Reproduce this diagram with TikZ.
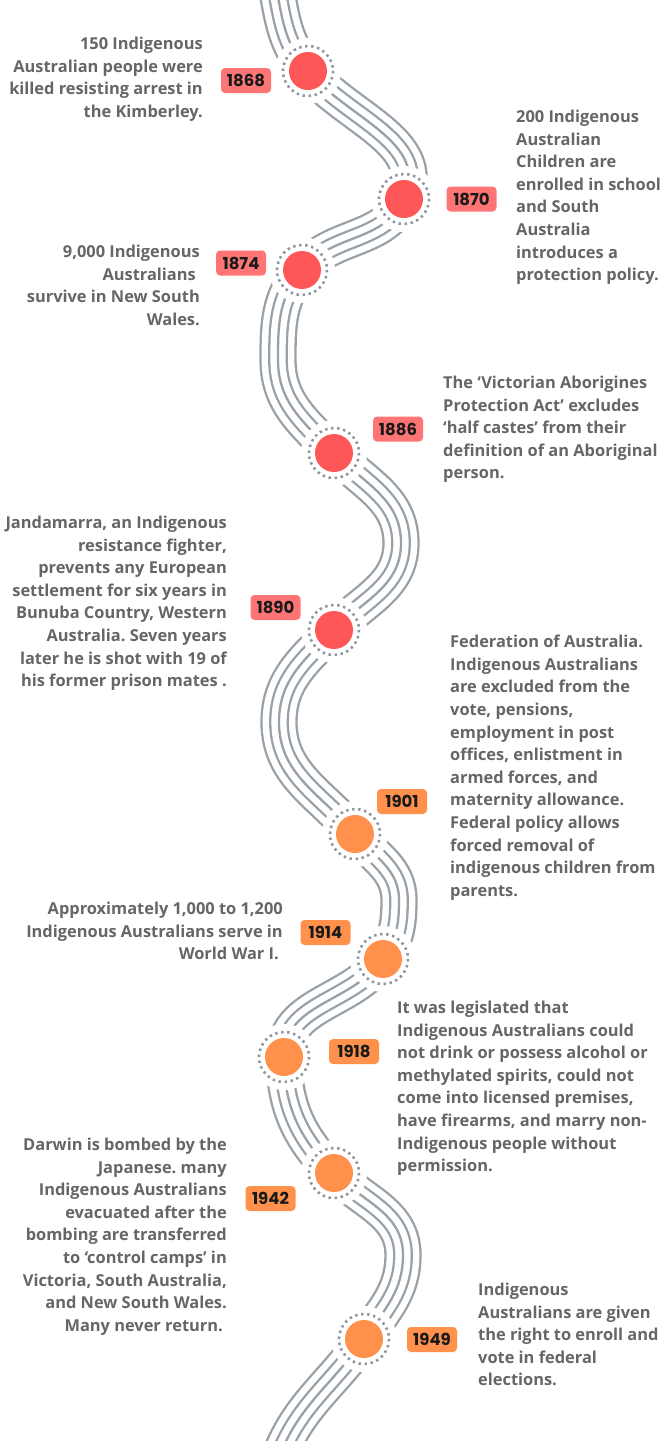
\documentclass[tikz,border=0pt]{standalone}
\usepackage{fontspec}
\setmainfont{Open Sans}
\newfontfamily\yearfont{Poppins}
\frenchspacing
\definecolor{txt}{HTML}{666666}
\definecolor{river}{HTML}{98A0A8}
\definecolor{ringc}{HTML}{8E979F}
\definecolor{redc}{HTML}{FF5757}
\definecolor{redl}{HTML}{FF7575}
\definecolor{orc}{HTML}{FF914D}
\definecolor{orl}{HTML}{FF914D}
\begin{document}
\begin{tikzpicture}[x=1pt,y=-1pt,
  desc/.style={inner sep=0pt, text=txt, font=\fontsize{16.4}{22.6}\selectfont\bfseries, execute at begin node=\strut},
  ldesc/.style={desc, anchor=north east, align=right},
  rdesc/.style={desc, anchor=north west, align=left},
  yearbox/.style={rounded corners=4pt, minimum width=50pt, minimum height=25pt, inner sep=0pt, text=black!90, font=\yearfont\bfseries\fontsize{16.5}{16.5}\selectfont},
  redyear/.style={yearbox, fill=redl},
  oryear/.style={yearbox, fill=orl},
  dot/.style={circle, minimum size=38pt, inner sep=0pt},
  ringdots/.style={draw=ringc, line width=2.6pt, dash pattern=on 2.4pt off 3.64pt},
]
\fill[white] (0,0) rectangle (666,1441);
\useasboundingbox (0,0) rectangle (666,1441);
\clip (0,0) rectangle (666,1441);
% path points
\coordinate (top) at (276,-15);
\coordinate (p1868) at (308,71);
\coordinate (p1870) at (404,199);
\coordinate (p1874) at (302,270);
\coordinate (m3) at (278,360);
\coordinate (p1886) at (334,453);
\coordinate (m4) at (401,543);
\coordinate (p1890) at (334,630);
\coordinate (m5) at (279,722);
\coordinate (p1901) at (355,834);
\coordinate (m6) at (399,900);
\coordinate (p1914) at (383,959);
\coordinate (p1918) at (284,1057);
\coordinate (p1942) at (334,1173);
\coordinate (m9) at (403,1255);
\coordinate (p1949) at (364,1339);
\coordinate (bot) at (278,1460);
\def\riverpath{(top) to[out=-80,in=130] (p1868)
 to[out=-50,in=65] (p1870)
 to[out=-115,in=50] (p1874)
 to[out=-130,in=90] (m3)
 to[out=-90,in=135] (p1886)
 to[out=-45,in=90] (m4)
 to[out=-90,in=45] (p1890)
 to[out=-135,in=90] (m5)
 to[out=-90,in=130] (p1901)
 to[out=-50,in=90] (m6)
 to[out=-90,in=55] (p1914)
 to[out=-125,in=90] (p1918)
 to[out=-90,in=135] (p1942)
 to[out=-45,in=90] (m9)
 to[out=-90,in=55] (p1949)
 to[out=-125,in=70] (bot)}
\draw[river, line width=37.3pt] \riverpath;
\draw[white, line width=32.7pt] \riverpath;
\draw[river, line width=19.8pt] \riverpath;
\draw[white, line width=15.2pt] \riverpath;
\draw[river, line width=2.3pt] \riverpath;
% event dots
\foreach \n/\c in {1868/redc,1870/redc,1874/redc,1886/redc,1890/redc,1901/orc,1914/orc,1918/orc,1942/orc,1949/orc}{
  \fill[white] (p\n) circle[radius=33];
  \draw[ringdots] (p\n) circle[radius=25];
  \node[dot, fill=\c] (c\n) at (p\n) {};
}
% year labels
\node[redyear] (y1868) at (246,80.5) {1868};
\node[redyear] (y1870) at (471.5,199) {1870};
\node[redyear] (y1874) at (241,263) {1874};
\node[redyear] (y1886) at (398,429) {1886};
\node[redyear] (y1890) at (275.5,607.5) {1890};
\node[oryear] (y1901) at (402,801.5) {1901};
\node[oryear] (y1914) at (325.5,932.5) {1914};
\node[oryear] (y1918) at (354,1051.5) {1918};
\node[oryear] (y1942) at (270.5,1198.5) {1942};
\node[oryear] (y1949) at (432,1339.5) {1949};
% descriptions
\node[ldesc] (t1868) at (203,36.9) {150 Indigenous\\Australian people were\\killed resisting arrest in\\the Kimberley.};
\node[rdesc] (t1870) at (516,109.9) {200 Indigenous\\Australian\\Children are\\enrolled in school\\and South\\Australia\\introduces a\\protection policy.};
\node[ldesc] (t1874) at (200,244.9) {9,000 Indigenous\\Australians\kern4pt\\survive in New South\\Wales.};
\node[rdesc] (t1886) at (443,375.9) {The ‘Victorian Aborigines\\Protection Act’ excludes\\‘half castes’ from their\\definition of an Aboriginal\\person.};
\node[ldesc] (t1890) at (227,515.9) {Jandamarra, an Indigenous\\resistance fighter,\\prevents any European\\settlement for six years in\\Bunuba Country, Western\\Australia. Seven years\\later he is shot with 19 of\\his former prison mates .};
\node[rdesc] (t1901) at (450,634.9) {Federation of Australia.\\Indigenous Australians\\are excluded from the\\vote, pensions,\\employment in post\\offices, enlistment in\\armed forces, and\\maternity allowance.\\Federal policy allows\\forced removal of\\indigenous children from\\parents.};
\node[ldesc] (t1914) at (283,901.9) {Approximately 1,000 to 1,200\\Indigenous Australians serve in\\World War I.\kern4pt};
\node[rdesc] (t1918) at (397,1000.9) {It was legislated that\\Indigenous Australians could\\not drink or possess alcohol or\\methylated spirits, could not\\come into licensed premises,\\have firearms, and marry non-\\Indigenous people without\\permission.};
\node[ldesc] (t1942) at (227,1137.9) {Darwin is bombed by the\\Japanese. many\\Indigenous Australians\\evacuated after the\\bombing are transferred\\to ‘control camps’ in\\Victoria, South Australia,\\and New South Wales.\\Many never return.\kern4pt};
\node[rdesc] (t1949) at (478,1282.9) {Indigenous\\Australians are given\\the right to enroll and\\vote in federal\\elections.};
\end{tikzpicture}
\end{document}
